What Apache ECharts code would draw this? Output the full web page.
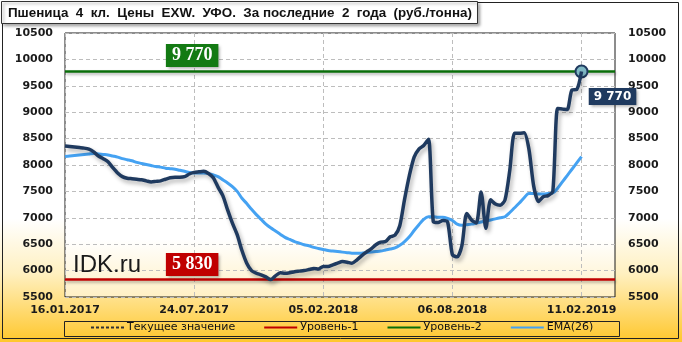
<!DOCTYPE html>
<html><head><meta charset="utf-8">
<script src="https://cdn.jsdelivr.net/npm/echarts@6/dist/echarts.min.js"></script>
<style>html,body{margin:0;padding:0;background:#fff}#c{width:682px;height:342px}</style>
</head><body><div id="c"></div>
<script>
const titleText = 'Пшеница  4  кл.  Цены  EXW.  УФО.  За последние  2  года  (руб./тонна)';
const tickLabels = ['16.01.2017', '24.07.2017', '05.02.2018', '06.08.2018', '11.02.2019'];
const tickStep = 27;
const weekCount = 116;
const yTicks = [5500, 6000, 6500, 7000, 7500, 8000, 8500, 9000, 9500, 10000, 10500];
const level1 = 5830;
const level2 = 9770;
const currentValue = 9770;
const legendNames = ['Текущее значение', 'Уровень-1', 'Уровень-2', 'EMA(26)'];
const price = [
 8360, 8350, 8340, 8330, 8320, 8300, 8250, 8170, 8120, 8060,
 7950, 7850, 7780, 7750, 7740, 7730, 7720, 7700, 7680, 7690,
 7700, 7730, 7760, 7770, 7770, 7780, 7830, 7860, 7870, 7880,
 7840, 7760, 7580, 7420, 7150, 6900, 6680, 6380, 6140, 6000,
 5950, 5920, 5880, 5830, 5900, 5960, 5950, 5960, 5980, 5990,
 6000, 6020, 6040, 6030, 6080, 6080, 6110, 6140, 6170, 6160,
 6140, 6200, 6280, 6350, 6410, 6490, 6540, 6550, 6640, 6670,
 6850, 7350, 7800, 8150, 8300, 8370, 8490, 6930, 6910, 6950,
 6920, 6300, 6260, 6480, 7080, 6960, 6900, 7490, 6800, 7340,
 7260, 7240, 7340, 7900, 8600, 8600, 8610, 8300, 7600, 7310,
 7400, 7420, 7500, 9070, 9060, 9050, 9420, 9430, 9770
];
const ema = [
 8160, 8170, 8180, 8190, 8200, 8210, 8220, 8210, 8200, 8190,
 8170, 8150, 8120, 8100, 8080, 8050, 8030, 8010, 7990, 7970,
 7960, 7940, 7930, 7920, 7900, 7880, 7860, 7850, 7850, 7850,
 7840, 7810, 7780, 7720, 7660, 7590, 7500, 7370, 7270, 7160,
 7060, 6970, 6880, 6810, 6750, 6690, 6630, 6590, 6550, 6520,
 6490, 6470, 6440, 6420, 6400, 6380, 6370, 6360, 6350, 6340,
 6330, 6330, 6330, 6340, 6350, 6360, 6370, 6390, 6410, 6430,
 6480, 6550, 6640, 6760, 6870, 6970, 7020, 7020, 7010, 7010,
 6990, 6950, 6880, 6860, 6870, 6880, 6900, 6920, 6940, 6960,
 6980, 7000, 7020, 7100, 7190, 7280, 7380, 7460, 7460, 7450,
 7450, 7460, 7470, 7560, 7680, 7800, 7920, 8040, 8160
];

const weeks = [];
for (let i = 0; i < weekCount; i++) weeks.push(String(i));
const isTick = (idx) => idx % tickStep === 0 && idx / tickStep < tickLabels.length;
const fmt = (v) => String(v).replace(/\B(?=(\d{3})+(?!\d))/g, ' ');
const lastIdx = price.length - 1;

const chart = echarts.init(document.getElementById('c'), null, {renderer: 'canvas'});
const axisFont = {fontFamily: 'DejaVu Sans', fontWeight: 'bold', fontSize: 11, color: '#1a1a1a'};
const shadow = {shadowColor: 'rgba(0,0,0,0.3)', shadowBlur: 3, shadowOffsetX: 1, shadowOffsetY: 2};
const boxShadow = {shadowColor: 'rgba(0,0,0,0.35)', shadowBlur: 3, shadowOffsetX: 2, shadowOffsetY: 2};
const levelLabel = (value, bg, dy) => ({
  coord: [String(tickStep), value], symbol: 'rect', symbolSize: 2,
  itemStyle: {color: 'rgba(0,0,0,0)', borderWidth: 0},
  label: Object.assign({show: true, position: 'inside', offset: [-2, dy], formatter: () => fmt(value),
    backgroundColor: bg, color: '#fff', fontFamily: 'Liberation Serif', fontWeight: 'bold', fontSize: 18,
    padding: [3, 6, 2, 6]}, boxShadow)
});

chart.setOption({
  animation: false,
  backgroundColor: {type: 'linear', x: 0, y: 0, x2: 0, y2: 1, colorStops: [
    {offset: 0, color: '#ffffff'}, {offset: 0.64, color: '#ffffff'},
    {offset: 0.8, color: '#fff0c0'}, {offset: 1, color: '#ffc72c'}]},
  grid: {left: 65, right: 67, top: 33, bottom: 45, show: true, borderColor: '#1a1a1a', borderWidth: 1,
    backgroundColor: {type: 'linear', x: 0, y: 0, x2: 0, y2: 1, colorStops: [
      {offset: 0, color: '#ffffff'}, {offset: 0.78, color: '#ffffff'}, {offset: 1, color: '#fff0c4'}]}},
  xAxis: {type: 'category', data: weeks, boundaryGap: false,
    axisLine: {show: false}, axisTick: {show: false},
    axisLabel: Object.assign({interval: (i) => isTick(i), margin: 8,
      formatter: (v, i) => isTick(i) ? tickLabels[i / tickStep] : ''}, axisFont),
    splitLine: {show: true, interval: (i) => isTick(i), lineStyle: {color: '#bdbdbd', type: [4, 3], width: 1}}},
  yAxis: [
    {type: 'value', min: yTicks[0], max: yTicks[yTicks.length - 1], interval: yTicks[1] - yTicks[0],
      axisLine: {show: false}, axisTick: {show: false},
      axisLabel: Object.assign({margin: 12, formatter: (v) => String(v)}, axisFont),
      splitLine: {lineStyle: {color: '#bdbdbd', type: [4, 3], width: 1}}},
    {type: 'value', position: 'right', min: yTicks[0], max: yTicks[yTicks.length - 1], interval: yTicks[1] - yTicks[0],
      axisLine: {show: false}, axisTick: {show: false},
      axisLabel: Object.assign({margin: 13, formatter: (v) => String(v)}, axisFont), splitLine: {show: false}}
  ],
  legend: {data: legendNames, left: 90, top: 322, itemWidth: 33, itemHeight: 13, itemGap: 28, padding: 0,
    itemStyle: {opacity: 0},
    textStyle: {fontFamily: 'DejaVu Sans', fontSize: 11, color: '#111', padding: [0, 0, 0, -2]}},
  graphic: [
    {type: 'rect', shape: {x: 2.5, y: 2.5, width: 676, height: 336}, style: {fill: 'none', stroke: '#222', lineWidth: 1}, z: 100},
    {type: 'rect', shape: {x: 64.5, y: 321.5, width: 555, height: 15}, style: {fill: 'none', stroke: '#222', lineWidth: 1}, z: 100},
    {type: 'rect', shape: {x: 1.5, y: 1.5, width: 476, height: 22}, style: Object.assign({fill: '#fff', stroke: '#333', lineWidth: 1}, boxShadow), z: 101},
    {type: 'text', x: 8, y: 13, style: {text: titleText, fontFamily: 'Liberation Sans', fontWeight: 'bold', fontSize: 13.4,
      fill: '#111', verticalAlign: 'middle'}, z: 102},
    {type: 'text', x: 73, y: 265, style: {text: 'IDK.ru', fontFamily: 'Liberation Sans', fontSize: 24, fill: '#1a1a1a',
      verticalAlign: 'middle'}, z: 50}
  ],
  series: [
    {name: legendNames[0], type: 'line', data: [], symbol: 'none', color: '#333',
      lineStyle: {color: '#333', width: 1, type: [3, 2]},
      markLine: {silent: true, symbol: 'none', label: {show: false},
        lineStyle: {color: '#333', width: 1, type: [3, 2]}, data: [{yAxis: currentValue}]}},
    {name: legendNames[1], type: 'line', data: [], symbol: 'none', color: '#c00000',
      lineStyle: {color: '#c00000', width: 2.5},
      markLine: {silent: true, symbol: 'none', label: {show: false},
        lineStyle: Object.assign({color: '#c00000', width: 2.5, type: 'solid'}, shadow), data: [{yAxis: level1}]}},
    {name: legendNames[2], type: 'line', data: [], symbol: 'none', color: '#0a6e0a',
      lineStyle: {color: '#0a6e0a', width: 2.5},
      markLine: {silent: true, symbol: 'none', label: {show: false},
        lineStyle: Object.assign({color: '#0a6e0a', width: 2.5, type: 'solid'}, shadow), data: [{yAxis: level2}]}},
    {name: legendNames[3], type: 'line', data: ema, symbol: 'none', smooth: 0.3, color: '#45a2f2',
      lineStyle: {color: '#45a2f2', width: 3}},
    {name: 'Цена', type: 'line', data: price, symbol: 'none', smooth: 0.25, color: '#1f3a5f', z: 5,
      lineStyle: {color: '#1f3a5f', width: 3.5, shadowColor: 'rgba(0,0,0,0.3)', shadowBlur: 4, shadowOffsetX: 2, shadowOffsetY: 3},
      markPoint: {symbol: 'circle', symbolSize: 12,
        itemStyle: {color: '#7fb8c4', borderColor: '#1f3a5f', borderWidth: 2},
        label: Object.assign({show: true, position: 'inside', offset: [31, 25], formatter: () => fmt(price[lastIdx]),
          backgroundColor: '#1f3a5f', color: '#fff', fontFamily: 'DejaVu Sans', fontWeight: 'bold', fontSize: 12,
          padding: [3, 5, 2, 5]}, boxShadow),
        data: [
          {coord: [String(lastIdx), price[lastIdx]]},
          levelLabel(level2, '#137a13', -16),
          levelLabel(level1, '#c00000', -15)
        ]}}
  ]
});
</script></body></html>
